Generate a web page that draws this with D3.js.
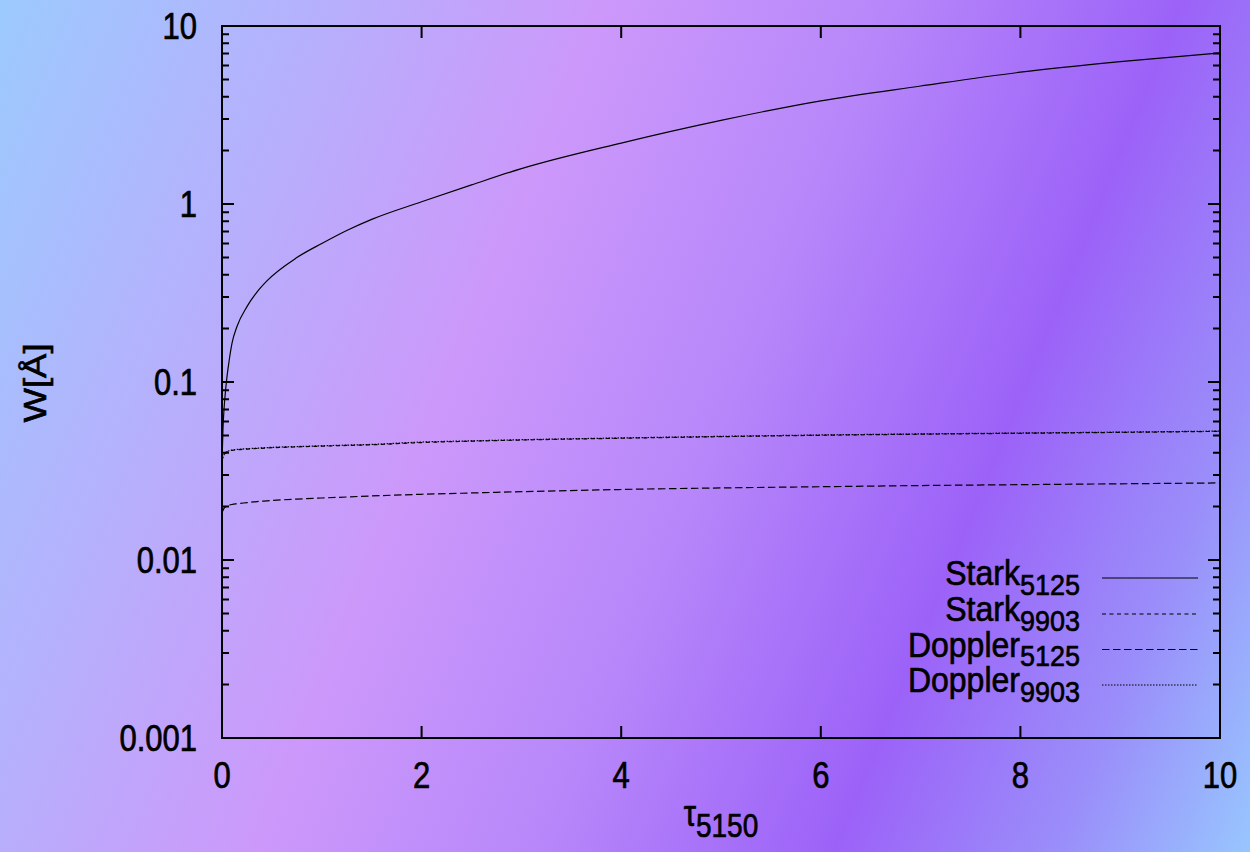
<!DOCTYPE html>
<html>
<head>
<meta charset="utf-8">
<script src="https://cdn.jsdelivr.net/npm/d3@7"></script>
<style>
  html, body { margin: 0; padding: 0; overflow: hidden; }
  svg { display: block; }
</style>
</head>
<body>
<svg id="chart"></svg>
<script>
// optical depth samples (shared x values)
const tau = [0, 0.01, 0.02, 0.04, 0.07, 0.1, 0.15, 0.25, 0.35, 0.45, 0.75, 1, 1.25, 1.5, 2, 2.5, 3, 4, 5, 6, 7, 8, 9, 10];

// line widths W [Å]
const stark5125 = [0.035, 0.055, 0.07, 0.095, 0.13, 0.165, 0.205, 0.265, 0.32, 0.37, 0.5, 0.6, 0.71, 0.82, 1.03, 1.28, 1.58, 2.2, 2.95, 3.8, 4.6, 5.5, 6.3, 7.05];
const stark9903 = [0.036, 0.038, 0.039, 0.0401, 0.041, 0.0413, 0.0416, 0.042, 0.0423, 0.0426, 0.0432, 0.0436, 0.044, 0.0444, 0.0457, 0.0465, 0.0472, 0.0483, 0.0493, 0.0502, 0.0509, 0.0515, 0.0521, 0.0528];
const doppler5125 = [0.0185, 0.019, 0.0195, 0.02, 0.0203, 0.0205, 0.0207, 0.021, 0.0213, 0.0215, 0.022, 0.0223, 0.0226, 0.0229, 0.0234, 0.0238, 0.0242, 0.0249, 0.0254, 0.0258, 0.0262, 0.0265, 0.0268, 0.0271];
const doppler9903 = [0.036, 0.038, 0.039, 0.0403, 0.0411, 0.0415, 0.0418, 0.0422, 0.0425, 0.0428, 0.0434, 0.0438, 0.0442, 0.0446, 0.046, 0.0467, 0.0474, 0.0485, 0.0495, 0.0504, 0.0511, 0.0517, 0.0523, 0.053];

const seriesNames = ["Stark", "Stark", "Doppler", "Doppler"];
const seriesSubs = ["5125", "9903", "5125", "9903"];
const seriesDash = [null, "4,3.5", "7.5,3.5", "1.5,1.5"];

const xTicks = [0, 2, 4, 6, 8, 10];
const yTicks = [0.001, 0.01, 0.1, 1, 10];
const yTickLabels = ["0.001", "0.01", "0.1", "1", "10"];

const width = 1250, height = 852;
const margin = { top: 26, right: 30, bottom: 114, left: 222 };
const sy = 1.18; // text in the original is stretched vertically

const svg = d3.select("#chart")
    .attr("width", width)
    .attr("height", height)
    .style("font-family", "'Liberation Sans', Arial, sans-serif");

// background gradient
const defs = svg.append("defs");
const grad = defs.append("linearGradient")
    .attr("id", "bg")
    .attr("gradientUnits", "userSpaceOnUse")
    .attr("x1", 0).attr("y1", 0)
    .attr("x2", 1369).attr("y2", 562);
[[0, "#9ccafe"], [0.2, "#b6b0fc"], [0.38, "#cc98fa"], [0.55, "#b888fa"],
 [0.74, "#9c62f8"], [0.88, "#9a8efa"], [1, "#98c6fe"]]
    .forEach(([o, c]) => grad.append("stop").attr("offset", o).attr("stop-color", c));

svg.append("rect")
    .attr("width", width)
    .attr("height", height)
    .attr("fill", "url(#bg)");

const x = d3.scaleLinear()
    .domain([0, 10])
    .range([margin.left, width - margin.right]);

const y = d3.scaleLog()
    .domain([0.001, 10])
    .range([height - margin.bottom, margin.top]);

const x0 = x.range()[0], x1 = x.range()[1];
const y0 = y.range()[0], y1 = y.range()[1];

// minor y ticks (2..9 per decade)
const minor = [];
yTicks.slice(0, -1).forEach(d => { for (let k = 2; k <= 9; k++) minor.push(d * k); });

const ticks = svg.append("g")
    .attr("stroke", "#000")
    .attr("stroke-width", 2);

ticks.selectAll(".ymaj")
    .data(yTicks)
    .join("path")
    .attr("d", d => `M${x0},${y(d)}h12M${x1},${y(d)}h-12`);

ticks.selectAll(".ymin")
    .data(minor)
    .join("path")
    .attr("d", d => `M${x0},${y(d)}h7M${x1},${y(d)}h-7`);

ticks.selectAll(".xmaj")
    .data(xTicks)
    .join("path")
    .attr("d", d => `M${x(d)},${y0}v-12M${x(d)},${y1}v12`);

// curves
const line = d3.line()
    .x(d => x(d[0]))
    .y(d => y(d[1]))
    .curve(d3.curveMonotoneX);

const series = [stark5125, stark9903, doppler5125, doppler9903];
const drawOrder = [1, 2, 3, 0];

svg.append("g")
    .attr("fill", "none")
    .attr("stroke", "#000")
    .selectAll("path")
    .data(drawOrder)
    .join("path")
    .attr("stroke-width", 1.2)
    .attr("stroke-dasharray", i => seriesDash[i])
    .attr("d", i => line(tau.map((t, j) => [t, series[i][j]])));

// frame
svg.append("rect")
    .attr("x", x0)
    .attr("y", y1)
    .attr("width", x1 - x0)
    .attr("height", y0 - y1)
    .attr("fill", "none")
    .attr("stroke", "#000")
    .attr("stroke-width", 2);

// text gets a thin outline to match the heavier strokes of the original
const textStyle = sel => sel.attr("fill", "#000").attr("stroke", "#000").attr("stroke-width", 0.6);

// tick labels
svg.append("g")
    .attr("font-size", 31)
    .attr("text-anchor", "end")
    .call(textStyle)
    .selectAll("text")
    .data(yTicks)
    .join("text")
    .attr("transform", d => `translate(197,${y(d)}) scale(1,${sy})`)
    .attr("dy", "0.36em")
    .text((d, i) => yTickLabels[i]);

svg.append("g")
    .attr("font-size", 31)
    .attr("text-anchor", "middle")
    .call(textStyle)
    .selectAll("text")
    .data(xTicks)
    .join("text")
    .attr("transform", d => `translate(${x(d)},775) scale(1,${sy})`)
    .attr("dy", "0.36em")
    .text(d => d);

// axis titles
svg.append("text")
    .attr("transform", `translate(35,383) scale(1,${sy}) rotate(-90)`)
    .attr("text-anchor", "middle")
    .attr("dy", "0.36em")
    .attr("font-size", 31)
    .call(textStyle)
    .text("W[Å]");

const xt = svg.append("text")
    .attr("transform", `translate(721,826) scale(1,${sy})`)
    .attr("text-anchor", "middle")
    .attr("font-size", 31)
    .call(textStyle);
xt.append("tspan").text("τ");
xt.append("tspan").attr("font-size", 28).attr("dy", 9).text("5150");

// legend
const legend = svg.append("g");
const rowY = [578, 614, 649.5, 685];

seriesNames.forEach((name, i) => {
    const t = legend.append("text")
        .attr("transform", `translate(1080,${rowY[i] + 7}) scale(1,1.08)`)
        .attr("text-anchor", "end")
        .attr("font-size", 32)
        .call(textStyle);
    t.append("tspan").text(name);
    t.append("tspan").attr("font-size", 27).attr("dy", 9).text(seriesSubs[i]);

    legend.append("line")
        .attr("x1", 1102)
        .attr("x2", 1198)
        .attr("y1", rowY[i])
        .attr("y2", rowY[i])
        .attr("stroke", "#000")
        .attr("stroke-width", 1.2)
        .attr("stroke-dasharray", seriesDash[i]);
});
</script>
</body>
</html>
